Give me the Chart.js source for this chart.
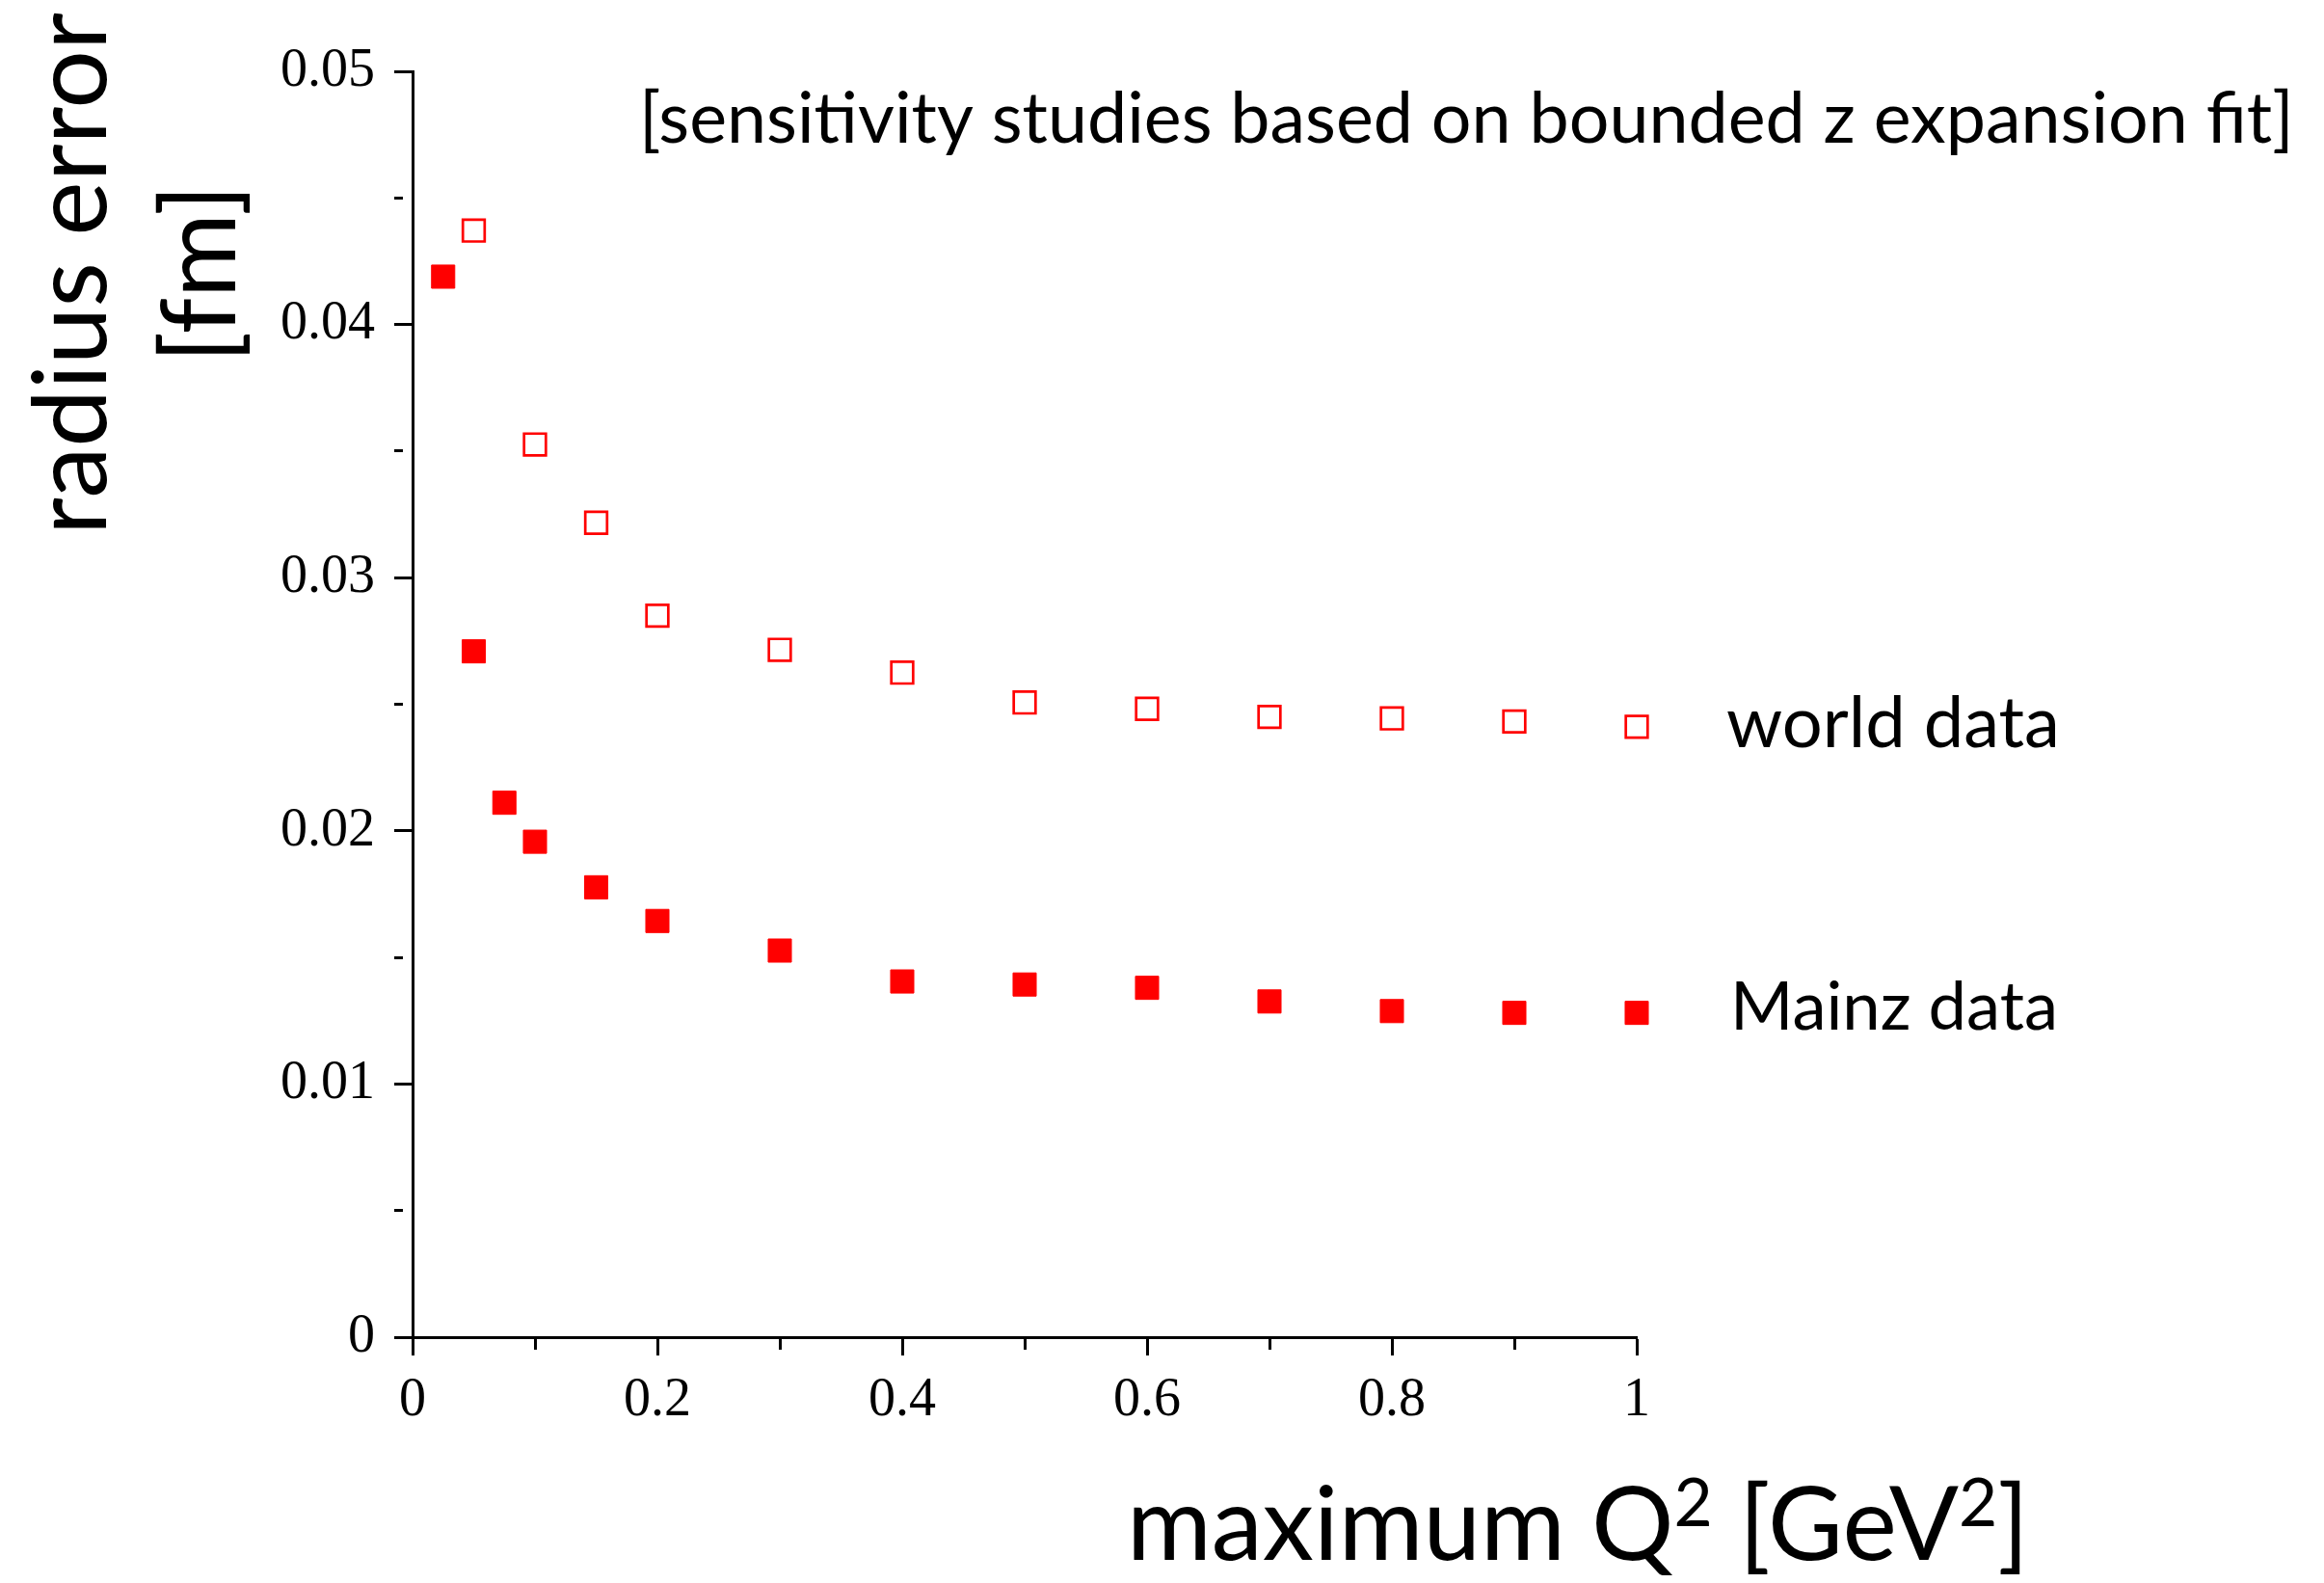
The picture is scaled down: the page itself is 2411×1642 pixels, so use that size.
<!DOCTYPE html>
<html><head><meta charset="utf-8">
<script src="https://cdn.jsdelivr.net/npm/chart.js@4.4.1/dist/chart.umd.min.js"></script>
<style>html,body{margin:0;padding:0;background:#fff;}#wrap{width:2411px;height:1642px;position:relative;}</style>
</head><body><div id="wrap"><canvas id="c" width="2411" height="1642"></canvas></div>
<script>
// ---- data ----
const mainzQ2  = [0.025, 0.05, 0.075, 0.1, 0.15, 0.2, 0.3, 0.4, 0.5, 0.6, 0.7, 0.8, 0.9, 1.0];
const mainzErr = [0.04189, 0.02709, 0.02111, 0.01957, 0.01777, 0.01644, 0.01527, 0.01405, 0.01393, 0.01380, 0.01326, 0.01288, 0.01281, 0.01281];
const worldQ2  = [0.05, 0.1, 0.15, 0.2, 0.3, 0.4, 0.5, 0.6, 0.7, 0.8, 0.9, 1.0];
const worldErr = [0.04371, 0.03526, 0.03217, 0.02850, 0.02715, 0.02625, 0.02507, 0.02482, 0.02450, 0.02444, 0.02432, 0.02411];
const xMajorTicks = [0, 0.2, 0.4, 0.6, 0.8, 1];
const xTickLabels = ['0', '0.2', '0.4', '0.6', '0.8', '1'];
const yMajorTicks = [0, 0.01, 0.02, 0.03, 0.04, 0.05];
const yTickLabels = ['0', '0.01', '0.02', '0.03', '0.04', '0.05'];
const seriesNames = ['world data', 'Mainz data'];
const yTitleLines = ['radius error', '[fm]'];
const annotation = '[sensitivity studies based on bounded z expansion fit]';

const RED = '#ff0000';
const SANS = 'Lato, "Open Sans", sans-serif';

function majorIndex(list, v) {
  for (let i = 0; i < list.length; i++) if (Math.abs(list[i] - v) < 1e-9) return i;
  return -1;
}
function fitSize(ctx, text, family, target) {
  ctx.font = '100px ' + family;
  return 100 * target / ctx.measureText(text).width;
}

const textPlugin = {
  id: 'texts',
  afterDraw(chart) {
    const ctx = chart.ctx;
    ctx.save();
    ctx.fillStyle = '#000';
    ctx.textBaseline = 'alphabetic';
    ctx.textAlign = 'left';
    // annotation
    let s = fitSize(ctx, annotation, SANS, 1717);
    ctx.font = s + 'px ' + SANS;
    ctx.fillText(annotation, 663, 148);
    // series labels
    s = fitSize(ctx, seriesNames[0], SANS, 346);
    ctx.font = s + 'px ' + SANS;
    ctx.fillText(seriesNames[0], 1791, 775);
    s = fitSize(ctx, seriesNames[1], SANS, 340);
    ctx.font = s + 'px ' + SANS;
    ctx.fillText(seriesNames[1], 1795, 1068);
    // y title (rotated)
    s = fitSize(ctx, yTitleLines[0], SANS, 542);
    ctx.save();
    ctx.translate(110, 284);
    ctx.rotate(-Math.PI / 2);
    ctx.textAlign = 'center';
    ctx.font = s + 'px ' + SANS;
    ctx.fillText(yTitleLines[0], 0, 0);
    ctx.fillText(yTitleLines[1], 0, 134);
    ctx.restore();
    // x title with superscripts
    const parts = [['maximum Q', false], ['2', true], [' [GeV', false], ['2', true], [']', false]];
    const measure = (S) => {
      let w = 0;
      for (const [t, sup] of parts) { ctx.font = (sup ? 0.65 * S : S) + 'px ' + SANS; w += ctx.measureText(t).width; }
      return w;
    };
    const S = 100 * 936 / measure(100);
    let x = 1169;
    for (const [t, sup] of parts) {
      ctx.font = (sup ? 0.65 * S : S) + 'px ' + SANS;
      ctx.fillText(t, x, sup ? 1618 - 0.33 * S : 1618);
      x += ctx.measureText(t).width;
    }
    ctx.restore();
  }
};

const ctx = document.getElementById('c').getContext('2d');
new Chart(ctx, {
  type: 'scatter',
  data: {
    datasets: [
      {
        label: seriesNames[0],
        data: worldQ2.map((q, i) => ({ x: q, y: worldErr[i] })),
        pointStyle: 'rect',
        pointRadius: 16,
        pointBackgroundColor: '#ffffff',
        pointBorderColor: RED,
        pointBorderWidth: 2.7,
        showLine: false,
        clip: false
      },
      {
        label: seriesNames[1],
        data: mainzQ2.map((q, i) => ({ x: q, y: mainzErr[i] })),
        pointStyle: 'rect',
        pointRadius: 17,
        pointBackgroundColor: RED,
        pointBorderColor: RED,
        pointBorderWidth: 1,
        showLine: false,
        clip: false
      }
    ]
  },
  options: {
    responsive: false,
    animation: false,
    events: [],
    layout: { padding: { left: 0, top: 74, right: 713, bottom: 0 } },
    plugins: { legend: { display: false }, tooltip: { enabled: false }, title: { display: false } },
    scales: {
      x: {
        type: 'linear',
        min: 0, max: 1,
        afterFit(scale) { scale.height = 255; },
        border: { display: true, color: '#000', width: 3 },
        grid: {
          drawOnChartArea: false, drawTicks: true, tickLength: 19,
          tickColor: '#000', tickWidth: 3,
          tickBorderDash: (c) => (c.tick && majorIndex(xMajorTicks, c.tick.value) < 0) ? [11, 100] : []
        },
        ticks: {
          stepSize: 0.1, autoSkip: false, maxRotation: 0, padding: 14,
          color: '#000',
          font: { family: '"Liberation Serif", "Times New Roman", serif', size: 56 },
          callback: (v) => { const i = majorIndex(xMajorTicks, v); return i < 0 ? '' : xTickLabels[i]; }
        }
      },
      y: {
        type: 'linear',
        min: 0, max: 0.05,
        afterFit(scale) { scale.width = 428; },
        border: { display: true, color: '#000', width: 3 },
        grid: {
          drawOnChartArea: false, drawTicks: true, tickLength: 19,
          tickColor: '#000', tickWidth: 3,
          tickBorderDash: (c) => (c.tick && majorIndex(yMajorTicks, c.tick.value) < 0) ? [9, 100] : []
        },
        ticks: {
          stepSize: 0.005, autoSkip: false, padding: 20,
          color: '#000',
          font: { family: '"Liberation Serif", "Times New Roman", serif', size: 56 },
          callback: (v) => { const i = majorIndex(yMajorTicks, v); return i < 0 ? '' : yTickLabels[i]; }
        }
      }
    }
  },
  plugins: [textPlugin]
});
</script></body></html>
